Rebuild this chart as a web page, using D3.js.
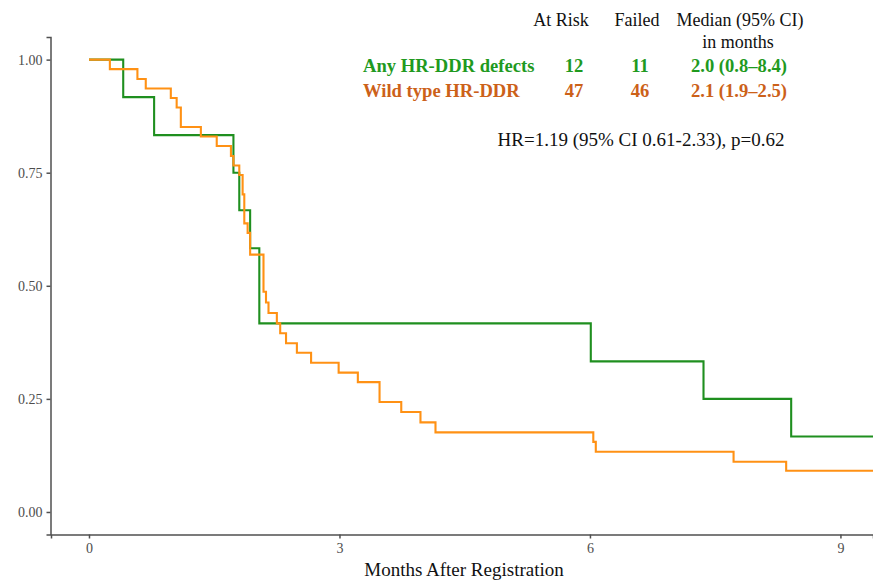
<!DOCTYPE html>
<html>
<head>
<meta charset="utf-8">
<script src="https://cdn.jsdelivr.net/npm/d3@7"></script>
<style>
  html, body { margin: 0; padding: 0; background: #fff; }
  svg { display: block; }
  text { font-family: "Liberation Serif", "Times New Roman", serif; }
</style>
</head>
<body>
<svg id="chart" width="873" height="585"></svg>
<script>
// Kaplan-Meier step estimates (months, survival probability)
const hrddrTimes  = [0, 0.41, 0.78, 1.73, 1.80, 1.93, 2.04, 6.01, 7.36, 8.41];
const hrddrSurv   = [1.0, 0.917, 0.833, 0.750, 0.667, 0.583, 0.417, 0.333, 0.250, 0.167];

const wildTimes = [0, 0.25, 0.58, 0.68, 0.98, 1.05, 1.10, 1.34, 1.53, 1.70, 1.73, 1.80, 1.84, 1.86,
                   1.90, 1.93, 2.09, 2.12, 2.15, 2.25, 2.29, 2.36, 2.49, 2.66, 2.99, 3.22, 3.48,
                   3.74, 3.97, 4.15, 6.04, 6.07, 7.72, 8.35];
const wildSurv  = [1.0, 0.979, 0.957, 0.936, 0.915, 0.894, 0.851, 0.830, 0.809, 0.787, 0.766, 0.745,
                   0.702, 0.638, 0.617, 0.569, 0.487, 0.463, 0.440, 0.417, 0.395, 0.373, 0.352, 0.330,
                   0.308, 0.287, 0.243, 0.221, 0.198, 0.176, 0.155, 0.133, 0.111, 0.091];

const followUpEnd = 9.6;   // last follow-up beyond the plotted window

const xTicks = [0, 3, 6, 9];
const yTicks = [0, 0.25, 0.5, 0.75, 1.0];

const groups = ["Any HR-DDR defects", "Wild type HR-DDR"];
const atRisk = [12, 47];
const failed = [11, 46];
const medianCI = ["2.0 (0.8\u20138.4)", "2.1 (1.9\u20132.5)"];
const hrText = "HR=1.19 (95% CI 0.61-2.33), p=0.62";

const lineColors = ["#1f8f1f", "#ff9114"];
const textColors = ["#1f9a1f", "#cc6119"];

const svg = d3.select("#chart");
const panel = { left: 51, right: 873, top: 37, bottom: 534.6 };

const x = d3.scaleLinear().domain([-0.455, 9.39]).range([panel.left, panel.right]);
const y = d3.scaleLinear().domain([-0.05, 1.05]).range([panel.bottom, panel.top]);

svg.append("defs").append("clipPath").attr("id", "panel-clip")
  .append("rect")
  .attr("x", panel.left).attr("y", panel.top - 5)
  .attr("width", panel.right - panel.left).attr("height", panel.bottom - panel.top + 10);

// Axes
const axisColor = "#505050";
const tickTextColor = "#4d4d4d";

const xAxis = svg.append("g")
  .attr("transform", `translate(0,${Math.round(panel.bottom) - 0.5})`)
  .call(d3.axisBottom(x).tickValues(xTicks).tickFormat(d3.format("d")).tickSizeOuter(0).tickSize(4).tickPadding(5));
xAxis.select(".domain").attr("stroke", axisColor).attr("stroke-width", 1.5);
xAxis.selectAll(".tick line").attr("stroke", axisColor).attr("stroke-width", 1.5);
xAxis.selectAll(".tick text").attr("fill", tickTextColor).style("font-size", "14px")
  .style("font-family", "'Liberation Serif', serif");

const yAxis = svg.append("g")
  .attr("transform", `translate(${panel.left - 0.5},0)`)
  .call(d3.axisLeft(y).tickValues(yTicks).tickFormat(d3.format(".2f")).tickSizeOuter(0).tickSize(4).tickPadding(4));
yAxis.select(".domain").attr("stroke", axisColor).attr("stroke-width", 1.5);
yAxis.selectAll(".tick line").attr("stroke", axisColor).attr("stroke-width", 1.5);
yAxis.selectAll(".tick text").attr("fill", tickTextColor).style("font-size", "14px")
  .style("font-family", "'Liberation Serif', serif");

// Survival curves
const step = d3.line()
  .x(d => x(d[0]))
  .y(d => y(d[1]))
  .curve(d3.curveStepAfter);

const curves = [
  { times: hrddrTimes, surv: hrddrSurv },
  { times: wildTimes, surv: wildSurv }
];

const curveLayer = svg.append("g").attr("clip-path", "url(#panel-clip)");
curves.forEach((c, i) => {
  const pts = c.times.map((t, j) => [t, c.surv[j]]);
  pts.push([followUpEnd, c.surv[c.surv.length - 1]]);
  curveLayer.append("path")
    .datum(pts)
    .attr("fill", "none")
    .attr("stroke", lineColors[i])
    .attr("stroke-width", 2.1)
    .attr("d", step);
});

// Summary table
const colRisk = 574, colFailed = 640, colMedian = 739;
const header = svg.append("g").style("font-size", "18px").attr("fill", "#111");
header.append("text").attr("x", 561).attr("y", 26).attr("text-anchor", "middle").text("At Risk");
header.append("text").attr("x", 637).attr("y", 26).attr("text-anchor", "middle").text("Failed");
header.append("text").attr("x", 740).attr("y", 26).attr("text-anchor", "middle").text("Median (95% CI)");
header.append("text").attr("x", 738).attr("y", 48).attr("text-anchor", "middle").text("in months");

const rowY = [72, 97];
groups.forEach((g, i) => {
  const row = svg.append("g").style("font-size", "18.6px").style("font-weight", "bold").attr("fill", textColors[i]);
  row.append("text").attr("x", 363).attr("y", rowY[i]).text(g);
  row.append("text").attr("x", colRisk).attr("y", rowY[i]).attr("text-anchor", "middle").text(atRisk[i]);
  row.append("text").attr("x", colFailed).attr("y", rowY[i]).attr("text-anchor", "middle").text(failed[i]);
  row.append("text").attr("x", colMedian).attr("y", rowY[i]).attr("text-anchor", "middle").text(medianCI[i]);
});

svg.append("text")
  .attr("x", 641).attr("y", 146).attr("text-anchor", "middle")
  .style("font-size", "19px").attr("fill", "#111")
  .text(hrText);

// Axis title
svg.append("text")
  .attr("x", 464).attr("y", 576).attr("text-anchor", "middle")
  .style("font-size", "19px").attr("fill", "#111")
  .text("Months After Registration");
</script>
</body>
</html>
